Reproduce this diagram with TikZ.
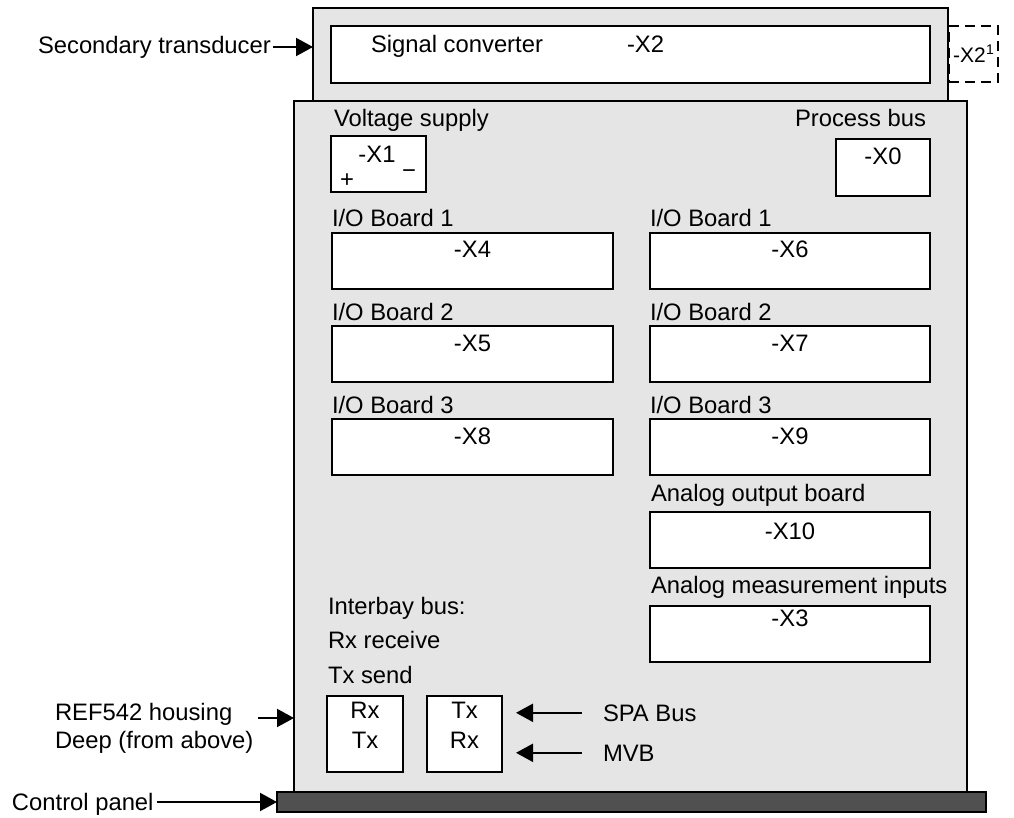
\documentclass[tikz,border=0pt]{standalone}
\usepackage{fontspec}
\setmainfont{Liberation Sans}
\usetikzlibrary{arrows.meta,calc}
\definecolor{hgray}{HTML}{E5E5E5}
\definecolor{pgray}{HTML}{505050}
\begin{document}
\begin{tikzpicture}[x=1pt,y=-1pt,
  every node/.style={inner sep=0pt, outer sep=0pt, font=\fontsize{23.8}{28}\selectfont},
  housing/.style={draw, line width=2pt, fill=hgray, anchor=north west},
  box/.style={draw, line width=2.2pt, fill=white, anchor=north west},
  dbox/.style={draw, line width=2pt, dash pattern=on 10pt off 6pt, anchor=north west},
  txt/.style={anchor=base west},
  ctxt/.style={anchor=base},
  arr/.style={line width=2pt, -{Triangle[length=17pt,width=18pt]}}]
\useasboundingbox (0,0) rectangle (1014,818);

% housings
\node[housing, minimum width=635pt, minimum height=93pt] (top) at (313,8) {};
\node[box, minimum width=599pt, minimum height=57pt] (sc) at (331,26) {};
\node[dbox, minimum width=49pt, minimum height=56pt] (x2p) at (949,26) {};
\node[housing, minimum width=673pt, minimum height=691pt] (main) at (294,101) {};
\node[draw, line width=2pt, fill=pgray, anchor=north west, minimum width=709pt, minimum height=20pt] (panel) at (277,792) {};

% top texts
\node[txt] (sct) at (371,53) {Signal converter};
\node[txt] (x2t) at (627,53) {-X2};
\node[txt, font=\fontsize{21}{24}\selectfont] (x2pt) at (953,63) {-X2\kern0.5pt\raisebox{8pt}{\fontsize{14}{16}\selectfont 1}};

% voltage supply / process bus
\node[txt] (vs) at (334,127) {Voltage supply};
\node[anchor=base east] (pb) at (926,127) {Process bus};
\node[box, minimum width=95pt, minimum height=56pt] (x1) at (331,136) {};
\node[ctxt] (x1t) at (377,163) {-X1};
\node (plus) at (347,181) {+};
\node (minus) at (409,174) {\char"2212};
\node[box, minimum width=94pt, minimum height=57pt] (x0) at (836,139) {};
\node[ctxt] (x0t) at ($(x0.north)+(0,26)$) {-X0};

% left column
\node[txt] (l1) at (332,227) {I/O Board 1};
\node[box, minimum width=281pt, minimum height=56pt] (x4) at (332,233) {};
\node[ctxt] (x4t) at ($(x4.north)+(0,25)$) {-X4};
\node[txt] (l2) at (332,320) {I/O Board 2};
\node[box, minimum width=281pt, minimum height=56pt] (x5) at (332,326) {};
\node[ctxt] (x5t) at ($(x5.north)+(0,25)$) {-X5};
\node[txt] (l3) at (332,413) {I/O Board 3};
\node[box, minimum width=281pt, minimum height=56pt] (x8) at (332,419) {};
\node[ctxt] (x8t) at ($(x8.north)+(0,25)$) {-X8};

% right column
\node[txt] (r1) at (650,227) {I/O Board 1};
\node[box, minimum width=280pt, minimum height=56pt] (x6) at (650,233) {};
\node[ctxt] (x6t) at ($(x6.north)+(0,25)$) {-X6};
\node[txt] (r2) at (650,320) {I/O Board 2};
\node[box, minimum width=280pt, minimum height=56pt] (x7) at (650,326) {};
\node[ctxt] (x7t) at ($(x7.north)+(0,25)$) {-X7};
\node[txt] (r3) at (650,413) {I/O Board 3};
\node[box, minimum width=280pt, minimum height=56pt] (x9) at (650,419) {};
\node[ctxt] (x9t) at ($(x9.north)+(0,25)$) {-X9};
\node[txt] (r4) at (651,501) {Analog output board};
\node[box, minimum width=280pt, minimum height=56pt] (x10) at (650,512) {};
\node[ctxt] (x10t) at ($(x10.north)+(0,27)$) {-X10};
\node[txt] (r5) at (651,593) {Analog measurement inputs};
\node[box, minimum width=280pt, minimum height=56pt] (x3) at (650,606) {};
\node[ctxt] (x3t) at ($(x3.north)+(0,20)$) {-X3};

% interbay
\node[txt] (ib1) at (328,614) {Interbay bus:};
\node[txt] (ib2) at (328,648) {Rx receive};
\node[txt] (ib3) at (328,683) {Tx send};
\node[box, minimum width=76pt, minimum height=76pt] (b1) at (327,696) {};
\node[ctxt] (b1a) at ($(b1.north)+(0,22)$) {Rx};
\node[ctxt] (b1b) at ($(b1.north)+(0,52)$) {Tx};
\node[box, minimum width=75pt, minimum height=76pt] (b2) at (427,696) {};
\node[ctxt] (b2a) at ($(b2.north)+(0,22)$) {Tx};
\node[ctxt] (b2b) at ($(b2.north)+(0,52)$) {Rx};
\node[txt] (spa) at (603,721) {SPA Bus};
\node[txt] (mvb) at (603,761) {MVB};
\draw[arr] ([xshift=-21pt]spa.west) -- ([xshift=14pt]b2.east |- spa.west);
\draw[arr] ([xshift=-21pt]mvb.west) -- ([xshift=14pt]b2.east |- mvb.west);

% outside labels
\node[txt] (st) at (38,54) {Secondary transducer};
\coordinate (a1) at ([shift={(2,-7)}]st.base east);
\draw[arr] (a1) -- (a1 -| top.west);

\node[txt] (ref1) at (55,720) {REF542 housing};
\node[txt] (ref2) at (55,748) {Deep (from above)};
\coordinate (a2) at ([shift={(5,-2)}]ref2.east |- ref1.base);
\draw[arr] (a2) -- (a2 -| main.west);

\node[txt] (cp) at (12,810) {Control panel};
\draw[arr] ([xshift=3pt]cp.east |- panel.west) -- (panel.west);
\end{tikzpicture}
\end{document}
